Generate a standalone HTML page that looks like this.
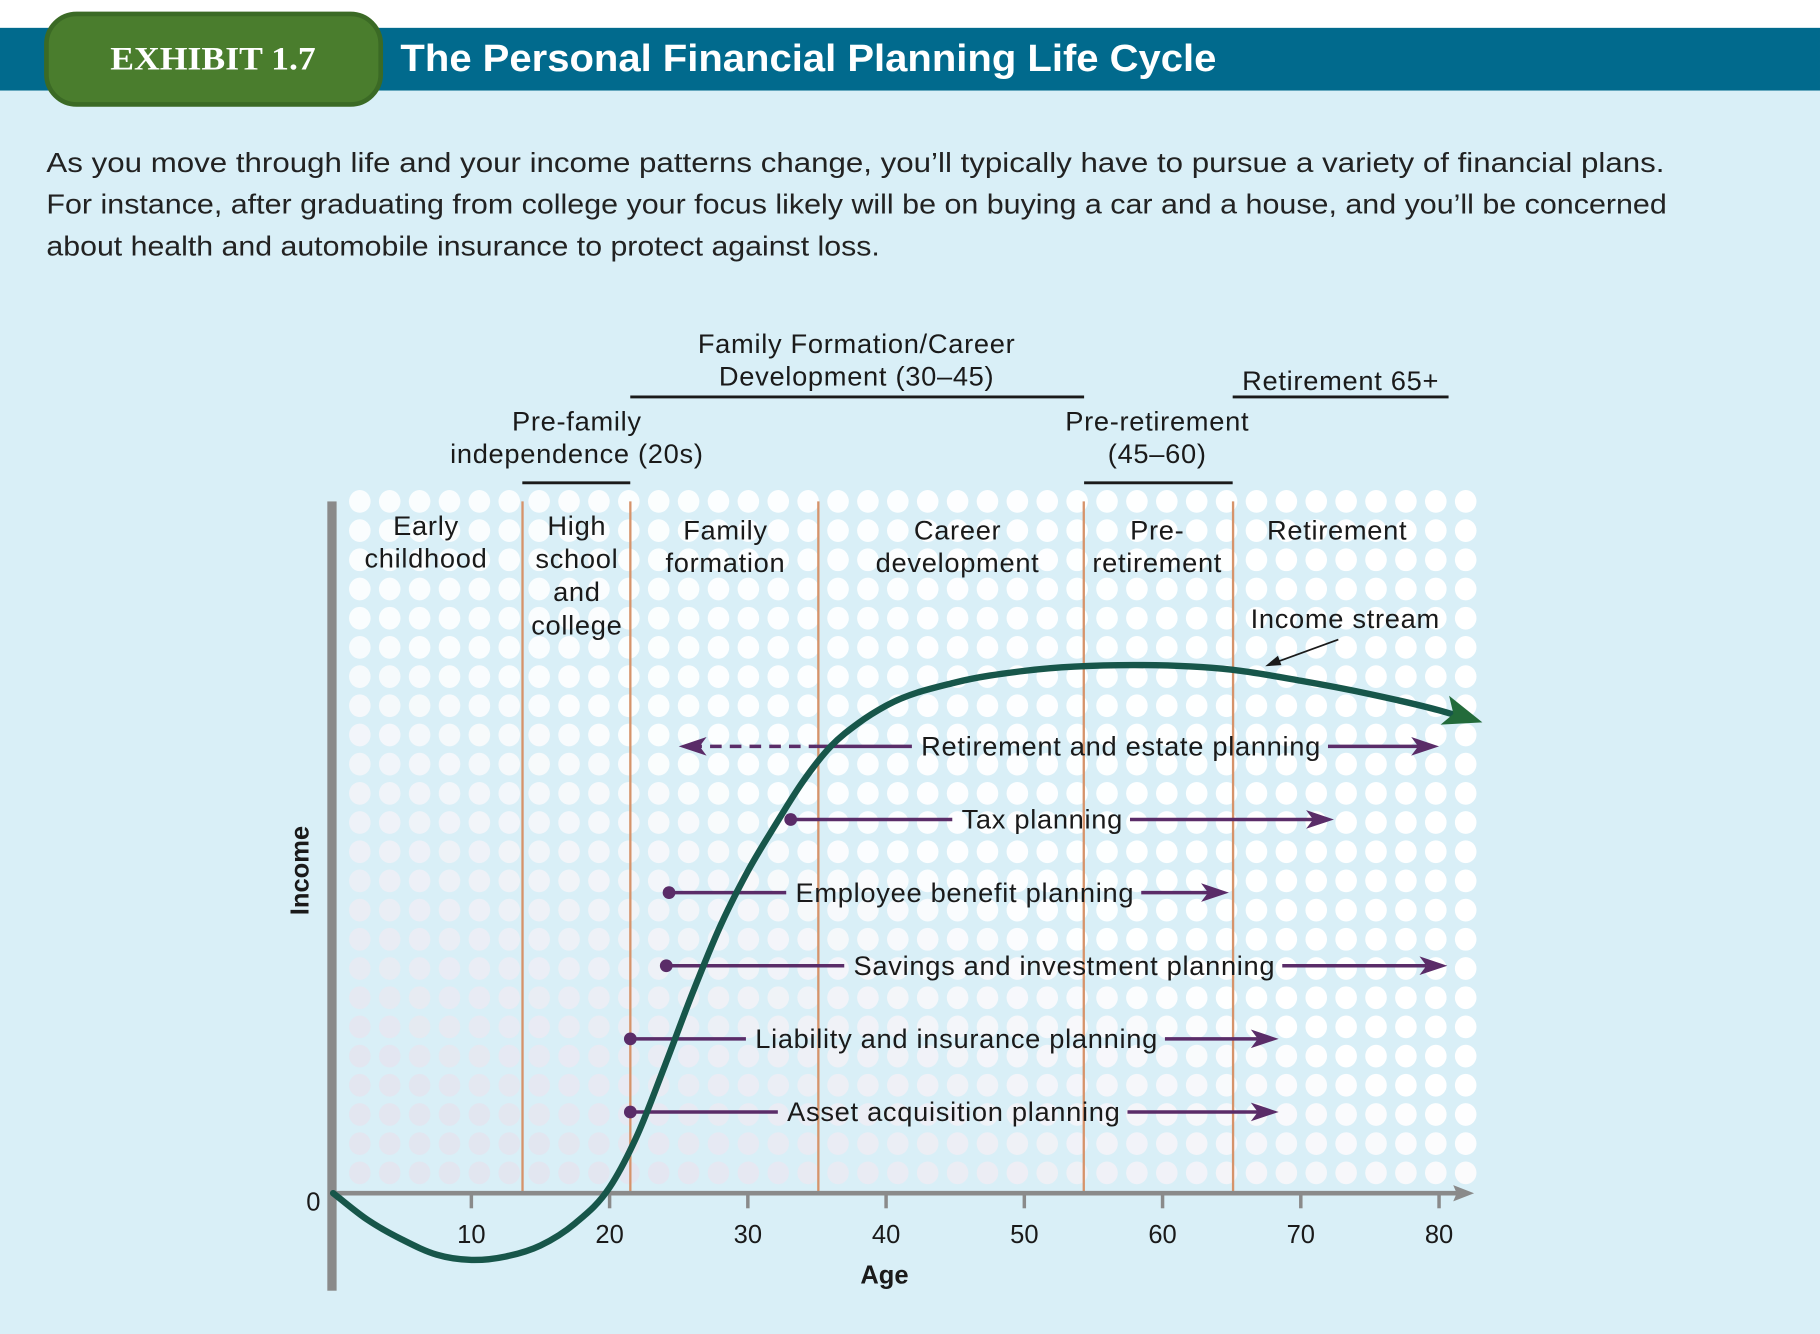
<!DOCTYPE html>
<html><head><meta charset="utf-8">
<style>
html,body{margin:0;padding:0;background:#d9eff7;}
svg{display:block;font-family:"Liberation Sans",sans-serif;}
</style></head>
<body>
<svg id="chart" width="1820" height="1334" viewBox="0 0 1820 1334" xmlns="http://www.w3.org/2000/svg">
<rect x="0" y="0" width="1820" height="1334" fill="#d9eff7"/>
<g transform="scale(1.16071)">
  <rect x="0" y="0" width="1568" height="24" fill="#ffffff"/>
  <rect x="0" y="24" width="1568" height="54" fill="#016a8d"/>
  <rect x="40" y="12" width="288" height="78" rx="26" fill="#4a7d2d" stroke="#3b6a25" stroke-width="4"/>
  <text x="95" y="60" fill="#fff" font-family="Liberation Serif,serif" font-weight="bold" font-size="28" textLength="177" lengthAdjust="spacingAndGlyphs">EXHIBIT 1.7</text>
  <text x="345" y="61" fill="#fff" font-weight="bold" font-size="33" textLength="703" lengthAdjust="spacingAndGlyphs">The Personal Financial Planning Life Cycle</text>
  <g fill="#222" font-size="24">
    <text x="40" y="148" textLength="1394" lengthAdjust="spacingAndGlyphs">As you move through life and your income patterns change, you’ll typically have to pursue a variety of financial plans.</text>
    <text x="40" y="184" textLength="1396" lengthAdjust="spacingAndGlyphs">For instance, after graduating from college your focus likely will be on buying a car and a house, and you’ll be concerned</text>
    <text x="40" y="220" textLength="718" lengthAdjust="spacingAndGlyphs">about health and automobile insurance to protect against loss.</text>
  </g>
  <g id="dots"></g>
  <g id="phases"></g>
  <g id="plot"></g>
</g>
</svg>
<script>
// ---- data ----
var curveAges   = [0, 2.5, 5, 7.5, 10, 12.5, 15, 17.5, 20, 22, 24, 26, 28, 30, 32, 34, 36, 38, 40, 45, 50, 58, 65, 70, 75, 80, 82];
var curveIncome = [0, -4.6, -8, -10.6, -11.5, -10.9, -9, -5.2, 1, 10, 22, 34.5, 46, 55.5, 63.5, 71, 77, 81, 84, 88, 90, 91, 90.2, 88.3, 86, 83.2, 81.8];
var xTicks = [10, 20, 30, 40, 50, 60, 70, 80];
var phaseBounds = [13.7, 21.5, 35.1, 54.3, 65.1];
var planNames  = ["Retirement and estate planning","Tax planning","Employee benefit planning","Savings and investment planning","Liability and insurance planning","Asset acquisition planning"];
var planStart  = [25, 33.1, 24.3, 24.1, 21.5, 21.5];
var planDashEnd= [35, null, null, null, null, null];
var planEnd    = [80, 72.4, 64.8, 80.6, 68.4, 68.4];
var planLabelCenter = [57, 51.3, 45.7, 52.9, 45.1, 44.9];
var planLevel  = [77, 64.4, 51.8, 39.2, 26.6, 14];

// ---- axes ----
function xs(a){ return 287 + a*11.91; }
function ys(v){ return 1028 - v*5; }

var NS = "http://www.w3.org/2000/svg";
function mk(tag, attrs, parent){ var e=document.createElementNS(NS,tag); for(var k in attrs) e.setAttribute(k,attrs[k]); parent.appendChild(e); return e; }
var dots=document.getElementById('dots'), phases=document.getElementById('phases'), plot=document.getElementById('plot');

function mix(a,b,t){ return Math.round(a+(b-a)*t); }
for (var c=0;c<38;c++){ for (var r=0;r<24;r++){
  var u=c/37, v=r/23;
  var t=Math.max(0,Math.min(1, v*1.5 - 0.25 - u*1.1));
  var col='rgb('+mix(255,229,t)+','+mix(255,227,t)+','+mix(255,238,t)+')';
  var op=(0.85 - 0.1*t + 0.15*u).toFixed(2);
  var d = mk('ellipse',{cx:310+c*25.75, cy:432+r*25.15, rx:9.3, ry:9.8, fill:col, 'fill-opacity':op}, dots);
  
  
}}

phaseBounds.forEach(function(a){
  var l=mk('line',{x1:xs(a),x2:xs(a),y1:432,y2:1028,stroke:'#d6936a','stroke-width':2},phases);
  
  
});

function label(lines,x,y0,lh,opts,name){
  var t=mk('text',Object.assign({x:x,'text-anchor':'middle',fill:'#1a1a1a','font-size':23.5,'letter-spacing':'0.6'},opts||{}),plot);
  
  
  lines.forEach(function(s,i){ var ts=mk('tspan',{x:x,y:y0+i*lh},t); ts.textContent=s; });
  return t;
}
label(["Early","childhood"],367,461,28,{},'phase-early-childhood');
label(["High","school","and","college"],497,461,28.5,{},'phase-high-school-college');
label(["Family","formation"],625,465,28,{},'phase-family-formation');
label(["Career","development"],825,465,28,{},'phase-career-development');
label(["Pre-","retirement"],997,465,28,{},'phase-pre-retirement');
label(["Retirement"],1152,465,28,{},'phase-retirement');
label(["Family Formation/Career","Development (30–45)"],738,304,28,{},'stage-family-career');
label(["Retirement 65+"],1155,336,28,{},'stage-retirement');
label(["Pre-family","independence (20s)"],497,371,28,{},'stage-pre-family');
label(["Pre-retirement","(45–60)"],997,371,28,{},'stage-pre-retirement');
[[543,934,342],[1062,1248,342],[450,543,416],[934,1062,416]].forEach(function(s){
  var l=mk('line',{x1:s[0],x2:s[1],y1:s[2],y2:s[2],stroke:'#1a1a1a','stroke-width':2.5},plot);
  
  
});

var ya=mk('rect',{x:282,y:432,width:8,height:680,fill:'#8a8a8a'},plot);


var xa=mk('line',{x1:287,x2:1258,y1:1028,y2:1028,stroke:'#8a8a8a','stroke-width':4},plot);


var xh=mk('path',{d:'M1270 1028 L1252 1021 L1255 1028 L1252 1035 Z',fill:'#8a8a8a'},plot);


xTicks.forEach(function(a){
  var tk=mk('line',{x1:xs(a),x2:xs(a),y1:1028,y2:1041,stroke:'#8a8a8a','stroke-width':3},plot);
  
  
  var t=mk('text',{x:xs(a),y:1071,'text-anchor':'middle','font-size':22,fill:'#1a1a1a'},plot);
  
  
  t.textContent=a;
});
var z=mk('text',{x:270,y:1043,'text-anchor':'middle','font-size':22,fill:'#1a1a1a'},plot);


z.textContent='0';
var at=mk('text',{x:762,y:1106,'text-anchor':'middle','font-size':22,'font-weight':'bold',fill:'#1a1a1a'},plot);


at.textContent='Age';
var it=mk('text',{x:0,y:0,'text-anchor':'middle','font-size':22,'font-weight':'bold',fill:'#1a1a1a',transform:'translate(266,750) rotate(-90)'},plot);


it.textContent='Income';

var PUR='#5a2c68';
function arrowHead(x,y,dir,name){
  var p=mk('path',{d:'M'+x+' '+y+' L'+(x-dir*24)+' '+(y-8)+' L'+(x-dir*18)+' '+y+' L'+(x-dir*24)+' '+(y+8)+' Z',fill:PUR},plot);
  
  
}
planNames.forEach(function(n,i){
  var y=ys(planLevel[i]);
  var t=mk('text',{x:xs(planLabelCenter[i]),y:y+8,'text-anchor':'middle','font-size':23.5,'letter-spacing':'0.6',fill:'#1a1a1a'},plot);
  
  
  t.textContent=n;
  var w=t.getComputedTextLength();
  var tx0=xs(planLabelCenter[i])-w/2-8, tx1=xs(planLabelCenter[i])+w/2+6;
  var sx=xs(planStart[i]);
  if(planDashEnd[i]!==null){
    var dl=mk('line',{x1:sx+10,x2:xs(planDashEnd[i]),y1:y,y2:y,stroke:PUR,'stroke-width':3,'stroke-dasharray':'10 7'},plot);
    
    
    arrowHead(sx,y,-1,'plan-start-arrow');
    sx=xs(planDashEnd[i]);
  } else {
    var c=mk('circle',{cx:sx,cy:y,r:5.5,fill:PUR},plot);
    
    
  }
  var l1=mk('line',{x1:sx,x2:tx0,y1:y,y2:y,stroke:PUR,'stroke-width':3},plot);
  
  
  var ex=xs(planEnd[i]);
  var l2=mk('line',{x1:tx1,x2:ex-18,y1:y,y2:y,stroke:PUR,'stroke-width':3},plot);
  
  
  arrowHead(ex,y,1,'plan-end-arrow');
});

// income curve: cubic Hermite in pixel space with weighted tangents
var px=curveAges.map(xs), py=curveIncome.map(ys), n=px.length;
var sl=[], m=[];
for(var i=0;i<n-1;i++) sl.push((py[i+1]-py[i])/(px[i+1]-px[i]));
for(var i=0;i<n;i++){
  if(i===0) m.push(sl[0]); else if(i===n-1) m.push(sl[n-2]);
  else { var h0=px[i]-px[i-1], h1=px[i+1]-px[i]; m.push((sl[i-1]*h1+sl[i]*h0)/(h0+h1)); }
}
var d='M'+px[0]+' '+py[0];
for(var i=0;i<n-1;i++){
  var h=(px[i+1]-px[i])/3;
  d+=' C'+(px[i]+h)+' '+(py[i]+m[i]*h)+' '+(px[i+1]-h)+' '+(py[i+1]-m[i+1]*h)+' '+px[i+1]+' '+py[i+1];
}
var cv=mk('path',{d:d,fill:'none',stroke:'#17564a','stroke-width':5.5,'stroke-linecap':'round'},plot);


var ang=Math.atan(m[n-1])*180/Math.PI;
var ah=mk('path',{d:'M12 0 L-22 -14 L-14 0 L-22 12 Z',fill:'#236b3a',transform:'translate('+(px[n-1]+2)+','+py[n-1]+') rotate('+ang+')'},plot);



label(["Income stream"],1159,541,28,{},'income-stream-label');
var al=mk('line',{x1:1153,y1:551,x2:1098,y2:571,stroke:'#1a1a1a','stroke-width':1.5},plot);


var ap=mk('path',{d:'M1090 574 L1101 565 L1104 573 Z',fill:'#1a1a1a'},plot);


</script>
</body></html>
